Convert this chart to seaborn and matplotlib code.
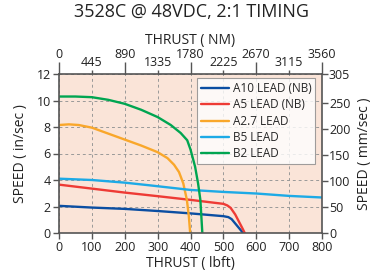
import numpy as np
import pandas as pd
import matplotlib
matplotlib.use("Agg")
import matplotlib.pyplot as plt
import seaborn as sns
from matplotlib.ticker import FixedLocator, FixedFormatter

sns.set_theme(style="white")
plt.rcParams['font.family'] = ['Open Sans', 'DejaVu Sans']

title = "3528C @ 48VDC, 2:1 TIMING"
series_names = ["A10 LEAD (NB)", "A5 LEAD (NB)", "A2.7 LEAD", "B5 LEAD", "B2 LEAD"]
colors = ["#0B4EA2", "#EE3B35", "#F9A72B", "#1DAAE6", "#00A551"]

a10_x = [0, 100, 200, 300, 400, 500, 515, 525, 536, 548, 560]
a10_y = [2.05, 1.92, 1.82, 1.66, 1.48, 1.27, 1.2, 1.05, 0.72, 0.36, 0.0]
a5_x = [0, 100, 200, 300, 400, 500, 512, 522, 536, 549, 558, 565]
a5_y = [3.65, 3.35, 3.05, 2.78, 2.5, 2.2, 2.08, 1.9, 1.4, 0.78, 0.35, 0.0]
a27_x = [0, 30, 60, 100, 150, 200, 250, 300, 330, 350, 365, 378, 389, 395, 399]
a27_y = [8.15, 8.2, 8.15, 7.95, 7.5, 7.05, 6.6, 6.1, 5.65, 5.15, 4.6, 3.75, 2.5, 1.25, 0.0]
b5_x = [0, 100, 200, 275, 400, 500, 600, 700, 800]
b5_y = [4.1, 4.0, 3.8, 3.6, 3.25, 3.1, 2.98, 2.8, 2.68]
b2_x = [0, 50, 100, 150, 200, 250, 300, 340, 370, 390, 400, 414, 423, 430, 436]
b2_y = [10.3, 10.3, 10.25, 10.05, 9.75, 9.3, 8.75, 8.15, 7.55, 7.0, 6.3, 5.0, 3.75, 2.5, 0.0]

xs = [a10_x, a5_x, a27_x, b5_x, b2_x]
ys = [a10_y, a5_y, a27_y, b5_y, b2_y]

bottom_ticks = [0, 100, 200, 300, 400, 500, 600, 700, 800]
left_ticks = [0, 2, 4, 6, 8, 10, 12]
top_major = [0, 890, 1780, 2670, 3560]
top_minor = [445, 1335, 2225, 3115]
right_ticks = [0, 50, 100, 150, 200, 250, 304.8]
right_labels = ["0", "50", "100", "150", "200", "250", "305"]

frames = []
for n, x, y in zip(series_names, xs, ys):
    frames.append(pd.DataFrame({"thrust": x, "speed": y, "series": n}))
df = pd.concat(frames, ignore_index=True)

fig = plt.figure(figsize=(3.82, 2.76), dpi=100)
ax = fig.add_axes([59/382, 1-233/276, (322-59)/382, (233-74)/276])
ax.set_facecolor("#FAE4D8")

sns.lineplot(data=df, x="thrust", y="speed", hue="series", hue_order=series_names,
             palette=colors, ax=ax, linewidth=1.7, sort=False, estimator=None)
for ln in ax.lines:
    ln.set_solid_joinstyle("round")

spine_c = "#555555"
ax.set_xlim(0, 800)
ax.set_ylim(0, 12)
ax.set_xticks(bottom_ticks)
ax.set_yticks(left_ticks)
ax.grid(True, color="#999999", linestyle=(0, (3, 3)), linewidth=0.7)
ax.tick_params(axis="both", direction="out", length=4, width=1, color=spine_c,
               labelsize=9, pad=2, labelcolor="#222222", bottom=True, left=True)
for s in ax.spines.values():
    s.set_color(spine_c)
    s.set_linewidth(1.2)
ax.set_xlabel("THRUST ( lbft)", fontsize=10, labelpad=1, color="#222222")
ax.set_ylabel("SPEED ( in/sec )", fontsize=10, labelpad=6, color="#222222")

leg = ax.legend(loc="upper right", bbox_to_anchor=(0.975, 0.975), fontsize=8.5,
                frameon=True, fancybox=False, handlelength=2.4, handletextpad=0.3,
                labelspacing=0.28, borderpad=0.35, borderaxespad=0.0)
leg.get_frame().set_edgecolor("#888888")
leg.get_frame().set_facecolor("white")
leg.get_frame().set_linewidth(0.8)

# top axis
axt = ax.twiny()
axt.set_xlim(0, 3560)
axt.xaxis.set_major_locator(FixedLocator(top_major))
axt.xaxis.set_major_formatter(FixedFormatter([str(v) for v in top_major]))
axt.xaxis.set_minor_locator(FixedLocator(top_minor))
axt.xaxis.set_minor_formatter(FixedFormatter([str(v) for v in top_minor]))
axt.tick_params(axis="x", which="major", direction="out", length=9, width=1,
                color=spine_c, labelsize=9, pad=0, labelcolor="#222222")
axt.tick_params(axis="x", which="minor", direction="out", length=3, width=1,
                color=spine_c, labelsize=9, pad=0.5, labelcolor="#222222")
axt.set_xlabel("THRUST ( NM)", fontsize=10, labelpad=3, color="#222222")
for s in axt.spines.values():
    s.set_visible(False)

# right axis
axr = ax.twinx()
axr.set_ylim(0, 12 * 25.4)
axr.set_yticks(right_ticks)
axr.set_yticklabels(right_labels)
axr.tick_params(axis="y", direction="out", length=4, width=1, color=spine_c,
                labelsize=9, pad=1, labelcolor="#222222", right=True)
axr.set_ylabel("SPEED ( mm/sec )", fontsize=10, labelpad=5, color="#222222")
for s in axr.spines.values():
    s.set_visible(False)

fig.suptitle(title, fontsize=13, y=0.99, color="#222222")

fig.savefig("out.png", dpi=100)
